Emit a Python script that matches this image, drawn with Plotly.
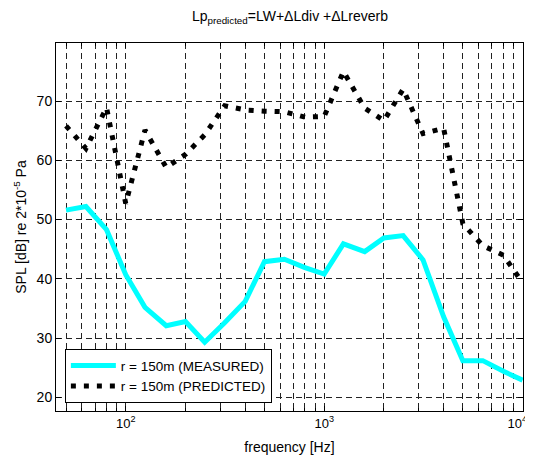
import plotly.graph_objects as go

# 1/3-octave band centre frequencies
freq = [50, 63, 80, 100, 125, 160, 200, 250, 315, 400, 500, 630, 800,
        1000, 1250, 1600, 2000, 2500, 3150, 4000, 5000, 6300, 8000, 10000]

# measured SPL at r = 150m
measured = [51.6, 52.2, 48.3, 40.7, 35.2, 32.1, 32.8, 29.3, 32.6, 36.2, 42.9, 43.3, 41.9,
            40.8, 45.9, 44.6, 46.9, 47.3, 43.2, 33.6, 26.2, 26.2, 24.4, 22.9]

# predicted SPL at r = 150m
predicted = [65.8, 62.0, 68.9, 52.7, 65.1, 58.8, 61.0, 64.3, 69.2, 68.5, 68.3, 68.2, 67.3,
             67.4, 75.0, 68.8, 66.7, 72.0, 64.5, 65.4, 49.3, 45.6, 44.0, 39.3]

# x tick labels (last one padded so it stays inside the window)
x_tickvals = [100, 1000, 10000]
x_ticktext = ['10<sup>2</sup>', '10<sup>3</sup>', '10<sup>4</sup>\u00a0\u00a0\u00a0']

fig = go.Figure()
fig.add_trace(go.Scatter(x=freq, y=measured, mode='lines', name='r = 150m (MEASURED)',
                         line=dict(color='#00FFFF', width=5)))
fig.add_trace(go.Scatter(x=freq, y=predicted, mode='lines', name='r = 150m (PREDICTED)',
                         line=dict(color='black', width=5, dash='5px,8px')))

# matlab style dashed grid
grid = dict(showgrid=True, gridcolor='#222', gridwidth=0.8, griddash='6px,4px')

# page body adds 8px around the figure -> shift margins by 8px
fig.update_layout(
    width=533, height=449,
    margin=dict(l=48, r=18, t=35, b=46, autoexpand=False),
    paper_bgcolor='white', plot_bgcolor='white',
    font=dict(family='Liberation Sans, Arial', size=14, color='black'),
    title=dict(text='Lp<sub>predicted</sub>=LW+ΔLdiv +ΔLreverb', x=0.529, xanchor='center',
               y=0.992, yanchor='top', font=dict(size=14)),
    showlegend=True,
    legend=dict(x=0.019, y=0.021, xanchor='left', yanchor='bottom', bgcolor='white',
                bordercolor='black', borderwidth=1, itemwidth=45,
                font=dict(size=13.5), tracegroupgap=0),
    xaxis=dict(type='log', range=[1.6485, 4.002], tickmode='array',
               tickvals=x_tickvals, ticktext=x_ticktext,
               showline=True, linecolor='black', linewidth=1, mirror='allticks',
               ticks='inside', ticklen=5, tickcolor='black', automargin=False,
               ticklabeloverflow='allow',
               title=dict(text='frequency [Hz]', standoff=12, font=dict(size=14)),
               tickfont=dict(size=13),
               minor=dict(dtick='D1', ticks='inside', ticklen=3, tickcolor='black', **grid),
               zeroline=False, **grid),
    yaxis=dict(range=[17.7, 79.8], dtick=10, tick0=0,
               showline=True, linecolor='black', linewidth=1, mirror='allticks',
               ticks='inside', ticklen=5, tickcolor='black', automargin=False,
               title=dict(text='SPL [dB] re 2*10<sup>-5</sup> Pa', standoff=6, font=dict(size=14)),
               tickfont=dict(size=14),
               zeroline=False, **grid),
)

fig.write_html("out.html")
